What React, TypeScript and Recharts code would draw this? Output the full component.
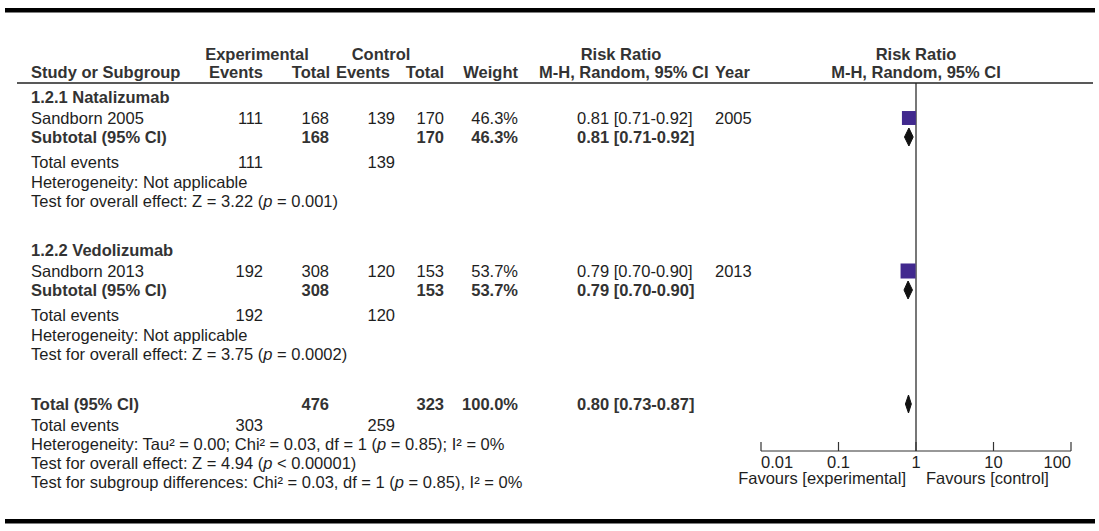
import React from 'react';
import { ComposedChart, Scatter, XAxis, YAxis, ReferenceLine, ErrorBar } from 'recharts';

// studies
const STUDIES = ['Sandborn 2005', 'Sandborn 2013'];
const YEARS = ['2005', '2013'];
const EXP_EVENTS = [111, 192];
const EXP_TOTAL = [168, 308];
const CTL_EVENTS = [139, 120];
const CTL_TOTAL = [170, 153];
const WEIGHTS = [46.3, 53.7];
const RR = [0.81, 0.79];
const RR_LO = [0.71, 0.7];
const RR_HI = [0.92, 0.9];

// subgroups + overall (last entry = total)
const SUBGROUPS = ['1.2.1 Natalizumab', '1.2.2 Vedolizumab'];
const SUB_Z = ['3.22', '3.75'];
const SUB_P = ['= 0.001', '= 0.0002'];
const POOLED_RR = [0.81, 0.79, 0.8];
const POOLED_LO = [0.71, 0.7, 0.73];
const POOLED_HI = [0.92, 0.9, 0.87];
const TOTAL_N = [476, 323];
const TOTAL_EVENTS = [303, 259];

const TICKS = [0.01, 0.1, 1, 10, 100];
const TICK_LABELS = ['0.01', '0.1', '1', '10', '100'];

// layout
const W = 1099;
const H = 531;
const FS = 16.5;
const FONT = '"Liberation Sans", Arial, Helvetica, sans-serif';
const RULE_Y = 83;
const AXIS_Y = 451;
const PLOT_L = 761;
const PLOT_R = 1071;
const DIAMOND_HALF = 9;

const ROW = {
  head1: 54, head2: 72,
  g1: 97, s1: 118, sub1: 137, ev1: 162, het1: 182, test1: 201,
  g2: 250, s2: 271, sub2: 290, ev2: 315, het2: 335, test2: 354,
  tot: 404, ev3: 425, het3: 444, test3: 463, sg: 482,
};
const STUDY_ROWS = [ROW.s1, ROW.s2];
const POOLED_ROWS = [ROW.sub1, ROW.sub2, ROW.tot];

const COL = { study: 31, expEv: 263, expTot: 329, ctlEv: 395, ctlTot: 444, weight: 518, rr: 577, year: 715 };

const SQUARE = '#41298e';
const INK = '#1e1e1e';
const HEAD = '#333';

function T({ x, y, anchor = 'start', bold = false, fill, children }: any) {
  return (
    <text x={x} y={y + FS * 0.36} textAnchor={anchor} fontFamily={FONT} fontSize={FS}
      fontWeight={bold ? 700 : 400} fill={fill ?? (bold ? HEAD : INK)}>
      {children}
    </text>
  );
}

const P = () => <tspan fontStyle="italic">p</tspan>;

const squares = STUDIES.map((s, i) => ({
  name: s, x: RR[i], y: STUDY_ROWS[i], w: WEIGHTS[i], err: [RR[i] - RR_LO[i], RR_HI[i] - RR[i]],
}));

const diamonds = POOLED_RR.map((rr, i) => [
  { x: POOLED_LO[i], y: POOLED_ROWS[i] },
  { x: rr, y: POOLED_ROWS[i] - DIAMOND_HALF },
  { x: POOLED_HI[i], y: POOLED_ROWS[i] },
  { x: rr, y: POOLED_ROWS[i] + DIAMOND_HALF },
]);

function SquareShape(props: any) {
  const { cx, cy, payload } = props;
  const s = 2.05 * Math.sqrt(payload.w);
  return <rect x={cx - s / 2} y={cy - s / 2} width={s} height={s} fill={SQUARE} />;
}

function AxisTick(props: any) {
  const { x, y, index } = props;
  const anchor = index === 0 ? 'start' : index === TICKS.length - 1 ? 'end' : 'middle';
  return (
    <g>
      <line x1={x} x2={x} y1={y - 9} y2={y} stroke="#333" strokeWidth={1.2} />
      <text x={x} y={y + 17} textAnchor={anchor} fontFamily={FONT} fontSize={FS} fill={INK}>
        {TICK_LABELS[index]}
      </text>
    </g>
  );
}

export default function App() {
  return (
    <div style={{ position: 'absolute', left: 0, top: 0, width: W, height: H, background: '#fff' }}>
      <div style={{ position: 'absolute', left: 0, top: 0 }}>
        <ComposedChart width={W} height={H}
          margin={{ top: RULE_Y, right: W - PLOT_R, left: PLOT_L, bottom: H - AXIS_Y - 30 }}>
          <XAxis dataKey="x" type="number" scale="log" domain={[0.01, 100]} ticks={TICKS}
            allowDataOverflow height={30} tickSize={0} tickMargin={0} tickLine={false}
            axisLine={{ stroke: '#333', strokeWidth: 1.2 }} tick={<AxisTick />} interval={0} />
          <YAxis dataKey="y" type="number" domain={[RULE_Y, AXIS_Y]} reversed hide width={0} allowDataOverflow />
          <ReferenceLine x={1} stroke="#777" strokeWidth={2} />
          <Scatter data={squares} shape={<SquareShape />} isAnimationActive={false}>
            <ErrorBar dataKey="err" direction="x" width={0} stroke={SQUARE} strokeWidth={1.5} />
          </Scatter>
          {diamonds.map((d, i) => (
            <Scatter key={i} data={d} shape={() => <g />} line={{ fill: '#111', stroke: '#111', strokeWidth: 1 }}
              lineJointType="linearClosed" isAnimationActive={false} />
          ))}
        </ComposedChart>
      </div>
      <svg width={W} height={H} style={{ position: 'absolute', left: 0, top: 0, pointerEvents: 'none' }}>
        <rect x={5} y={8} width={1090} height={4.5} fill="#000" />
        <rect x={5} y={519} width={1090} height={4.5} fill="#000" />
        <line x1={17} x2={1093} y1={RULE_Y} y2={RULE_Y} stroke="#222" strokeWidth={1.5} />

        {/* headers */}
        <T x={257} y={ROW.head1} anchor="middle" bold>Experimental</T>
        <T x={381} y={ROW.head1} anchor="middle" bold>Control</T>
        <T x={621} y={ROW.head1} anchor="middle" bold>Risk Ratio</T>
        <T x={916} y={ROW.head1} anchor="middle" bold>Risk Ratio</T>
        <T x={COL.study} y={ROW.head2} bold>Study or Subgroup</T>
        <T x={COL.expEv} y={ROW.head2} anchor="end" bold>Events</T>
        <T x={COL.expTot + 1} y={ROW.head2} anchor="end" bold>Total</T>
        <T x={390} y={ROW.head2} anchor="end" bold>Events</T>
        <T x={COL.ctlTot} y={ROW.head2} anchor="end" bold>Total</T>
        <T x={COL.weight} y={ROW.head2} anchor="end" bold>Weight</T>
        <T x={539} y={ROW.head2} bold>M-H, Random, 95% CI</T>
        <T x={COL.year} y={ROW.head2} bold>Year</T>
        <T x={916} y={ROW.head2} anchor="middle" bold>M-H, Random, 95% CI</T>

        {[0, 1].map((i) => {
          const g = i === 0
            ? { g: ROW.g1, s: ROW.s1, sub: ROW.sub1, ev: ROW.ev1, het: ROW.het1, test: ROW.test1 }
            : { g: ROW.g2, s: ROW.s2, sub: ROW.sub2, ev: ROW.ev2, het: ROW.het2, test: ROW.test2 };
          const ci = `${RR[i].toFixed(2)} [${RR_LO[i].toFixed(2)}-${RR_HI[i].toFixed(2)}]`;
          const pci = `${POOLED_RR[i].toFixed(2)} [${POOLED_LO[i].toFixed(2)}-${POOLED_HI[i].toFixed(2)}]`;
          return (
            <g key={i}>
              <T x={COL.study} y={g.g} bold>{SUBGROUPS[i]}</T>
              <T x={COL.study} y={g.s}>{STUDIES[i]}</T>
              <T x={COL.expEv} y={g.s} anchor="end">{EXP_EVENTS[i]}</T>
              <T x={COL.expTot} y={g.s} anchor="end">{EXP_TOTAL[i]}</T>
              <T x={COL.ctlEv} y={g.s} anchor="end">{CTL_EVENTS[i]}</T>
              <T x={COL.ctlTot} y={g.s} anchor="end">{CTL_TOTAL[i]}</T>
              <T x={COL.weight} y={g.s} anchor="end">{WEIGHTS[i].toFixed(1)}%</T>
              <T x={COL.rr} y={g.s}>{ci}</T>
              <T x={COL.year} y={g.s}>{YEARS[i]}</T>
              <T x={COL.study} y={g.sub} bold>Subtotal (95% CI)</T>
              <T x={COL.expTot} y={g.sub} anchor="end" bold>{EXP_TOTAL[i]}</T>
              <T x={COL.ctlTot} y={g.sub} anchor="end" bold>{CTL_TOTAL[i]}</T>
              <T x={COL.weight} y={g.sub} anchor="end" bold>{WEIGHTS[i].toFixed(1)}%</T>
              <T x={COL.rr} y={g.sub} bold>{pci}</T>
              <T x={COL.study} y={g.ev}>Total events</T>
              <T x={COL.expEv} y={g.ev} anchor="end">{EXP_EVENTS[i]}</T>
              <T x={COL.ctlEv} y={g.ev} anchor="end">{CTL_EVENTS[i]}</T>
              <T x={COL.study} y={g.het}>Heterogeneity: Not applicable</T>
              <T x={COL.study} y={g.test}>Test for overall effect: Z = {SUB_Z[i]} (<P /> {SUB_P[i]})</T>
            </g>
          );
        })}

        <T x={COL.study} y={ROW.tot} bold>Total (95% CI)</T>
        <T x={COL.expTot} y={ROW.tot} anchor="end" bold>{TOTAL_N[0]}</T>
        <T x={COL.ctlTot} y={ROW.tot} anchor="end" bold>{TOTAL_N[1]}</T>
        <T x={COL.weight} y={ROW.tot} anchor="end" bold>100.0%</T>
        <T x={COL.rr} y={ROW.tot} bold>
          {`${POOLED_RR[2].toFixed(2)} [${POOLED_LO[2].toFixed(2)}-${POOLED_HI[2].toFixed(2)}]`}
        </T>
        <T x={COL.study} y={ROW.ev3}>Total events</T>
        <T x={COL.expEv} y={ROW.ev3} anchor="end">{TOTAL_EVENTS[0]}</T>
        <T x={COL.ctlEv} y={ROW.ev3} anchor="end">{TOTAL_EVENTS[1]}</T>
        <T x={COL.study} y={ROW.het3}>Heterogeneity: Tau² = 0.00; Chi² = 0.03, df = 1 (<P /> = 0.85); I² = 0%</T>
        <T x={COL.study} y={ROW.test3}>Test for overall effect: Z = 4.94 (<P /> &lt; 0.00001)</T>
        <T x={COL.study} y={ROW.sg}>Test for subgroup differences: Chi² = 0.03, df = 1 (<P /> = 0.85), I² = 0%</T>

        <T x={906} y={478} anchor="end">Favours [experimental]</T>
        <T x={926} y={478}>Favours [control]</T>
      </svg>
    </div>
  );
}
